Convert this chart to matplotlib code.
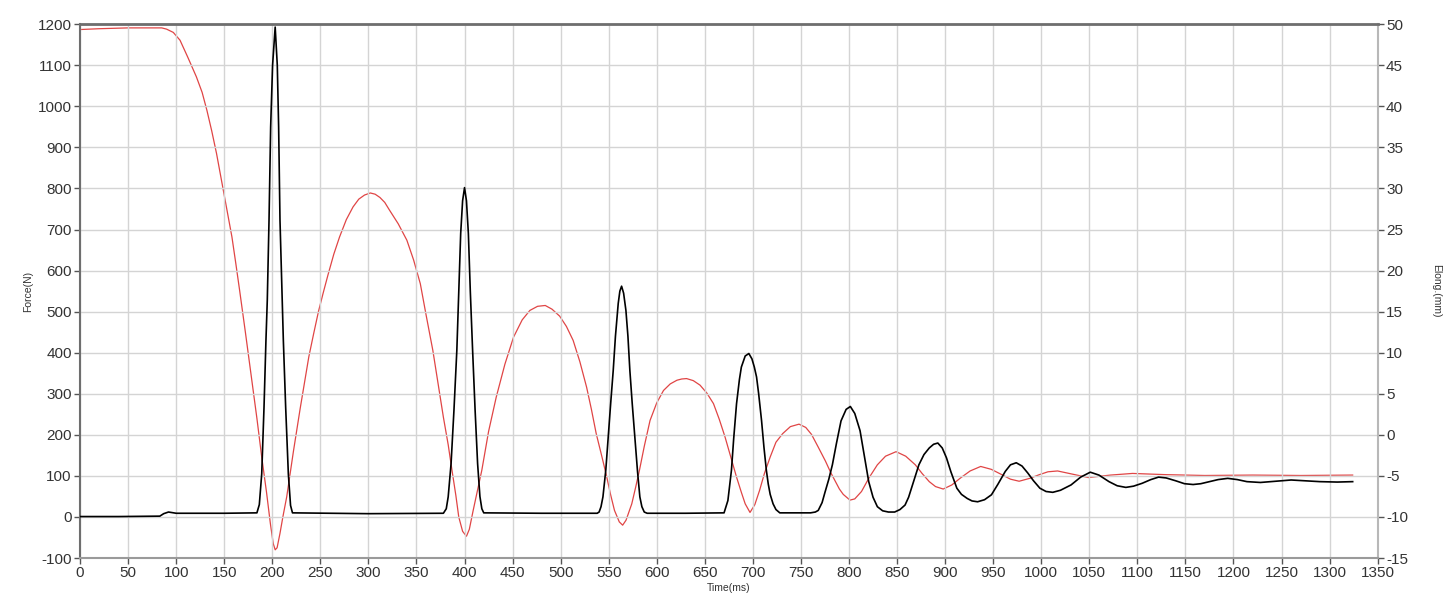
import matplotlib
matplotlib.use("Agg")
import matplotlib.pyplot as plt

plt.rcParams['font.family'] = ['Liberation Sans', 'DejaVu Sans']
plt.rcParams['axes.unicode_minus'] = False

# Force (N) series: time (ms) and force
force_t = [0, 40, 83, 87, 92, 100, 150, 184, 186.5, 187.5, 189, 191.4, 193.4, 194.8, 196.6, 198.3, 200.3, 203,
           205.2, 206.6, 208, 210.4, 211.5, 213.9, 216.7, 219, 221, 300,
           378, 381, 383, 386, 389, 392, 394, 396, 398, 400, 402, 404, 406, 408.4, 411, 413.6, 416, 418, 420,
           480, 538, 540, 542, 544, 547, 549.5, 552, 554.7, 557, 559.9, 561.6, 563.4, 565.5, 567.9, 570, 572,
           574.5, 577.2, 580, 582.4, 584.5, 587, 590,
           630, 670, 674, 677.7, 680, 683, 686, 688, 692, 695.8, 699, 701.5, 703.8, 706, 709, 711.5, 714, 716,
           718, 721, 724, 728,
           760, 765, 768, 772, 775, 779, 782.7, 787, 791.7, 797, 801.4, 806, 811.5, 816, 820.5, 825, 829.5,
           835, 841, 847.5, 853, 858.3, 862, 865, 869, 872.7, 878, 883.5, 888, 892.4, 897, 901.4, 906,
           912.2, 917, 923, 928, 933.8, 941, 948.2, 955, 962.6, 968, 974, 980, 986, 992, 998.6, 1005,
           1012, 1020, 1031, 1041, 1051, 1060, 1070.5, 1079, 1088, 1096, 1105, 1114, 1122, 1130, 1140,
           1149, 1158, 1166, 1175, 1184, 1194, 1204, 1214, 1228, 1244, 1260, 1275, 1290, 1308, 1324]
force_n = [1, 1, 2, 8, 12, 9, 9, 10, 30, 60, 105, 268, 430, 528, 723, 950, 1100, 1193,
           1100, 950, 723, 528, 430, 268, 105, 28, 10, 8,
           9, 20, 49, 130, 260, 406, 550, 690, 770, 802, 770, 690, 550, 406, 260, 130, 50, 20, 10,
           9, 9, 12, 25, 49, 115, 195, 275, 357, 440, 520, 550, 562, 545, 503, 440, 357,
           275, 195, 110, 49, 25, 12, 9,
           9, 10, 40, 114, 190, 276, 335, 365, 392, 398, 385, 365, 341, 300, 235, 170, 114, 80,
           55, 32, 18, 10,
           10, 12, 16, 35, 60, 92, 127, 180, 234, 262, 269, 252, 210, 148, 86, 48, 25,
           15, 12, 12, 18, 29, 48, 70, 100, 127, 152, 168, 177, 180, 168, 144, 110,
           70, 55, 45, 39, 37, 42, 54, 80, 111, 127, 132, 124, 107, 88, 70, 62,
           60, 65, 78, 97, 109, 102, 86, 76, 72, 75, 82, 91, 97, 95, 88,
           81, 79, 81, 86, 91, 94, 91, 86, 84, 87, 90, 88, 86, 85, 86]

# Elongation (mm) series
elong_t = [0, 20, 50, 85, 90, 97, 104, 112, 121, 127, 132, 137, 142, 149, 153, 158, 162, 166, 172, 178, 184,
           189, 194, 198, 201, 203, 205, 208, 211, 215, 222, 229, 238, 243, 248, 253, 258, 264, 270, 277,
           284, 290, 296, 302, 307, 312, 317, 322, 331, 340, 347, 354, 360, 367, 372, 378, 383, 387, 391,
           394, 398, 402, 405, 409, 418, 425, 433, 442, 451, 460, 468, 476, 484, 491, 499, 506, 513, 520,
           527, 532, 537, 543, 548, 552, 556, 561, 564.5, 568, 574, 578, 582, 587, 593, 600, 607, 614, 621,
           626, 631, 638, 645, 652, 659, 665, 671, 677, 683, 688, 692, 697, 702, 707, 712, 718, 724, 731,
           739, 748, 755, 761, 768, 775.5, 781, 786, 790, 794, 801, 806, 813, 821, 829.5, 838, 849, 859,
           869, 876, 883.5, 890, 898, 907, 916, 926, 937, 948, 959, 968, 977, 988, 998, 1007, 1017, 1033,
           1049, 1072, 1095, 1130, 1170, 1220, 1270, 1324]
elong_mm = [49.35, 49.45, 49.55, 49.55, 49.4, 49.0, 48.05, 46.0, 43.6, 41.7, 39.5, 37.0, 34.25, 29.8, 27.2,
            24.1, 20.9, 17.6, 12.5, 7.25, 2.0,
            -2.7, -7.0, -10.8, -13.25, -14.0, -13.75, -12.0, -10.0, -7.55, -2.0, 3.2, 9.5, 12.3, 15.0, 17.3,
            19.5, 22.0, 24.1, 26.2,
            27.75, 28.7, 29.2, 29.45, 29.3, 28.9, 28.3, 27.35, 25.7, 23.7, 21.3, 18.4, 14.6, 10.3, 6.6, 2.15,
            -1.2, -4.35, -7.4,
            -10.0, -11.75, -12.35, -11.5, -9.2, -4.3, 0.4, 4.6, 8.6, 11.9, 14.0, 15.15, 15.65, 15.75, 15.3,
            14.45, 13.2, 11.5, 8.9,
            5.8, 3.1, 0.15, -2.7, -5.15, -7.3, -9.2, -10.6, -11.0, -10.4, -8.4, -6.4, -4.3, -1.4, 1.75, 3.9,
            5.4, 6.2, 6.65,
            6.8, 6.85, 6.6, 6.05, 5.1, 3.8, 1.9, -0.25, -2.7, -5.15, -7.0, -8.4, -9.45, -8.5, -6.75, -4.7,
            -2.7, -0.9, 0.15,
            1.0, 1.3, 0.9, 0.05, -1.5, -3.2, -4.6, -5.7, -6.6, -7.25, -7.95, -7.8, -6.9, -5.2, -3.65, -2.6,
            -2.05, -2.6,
            -3.65, -4.7, -5.7, -6.3, -6.6, -6.1, -5.25, -4.4, -3.85, -4.2, -4.85, -5.4, -5.65, -5.3, -4.85,
            -4.5, -4.4, -4.8,
            -5.2, -4.9, -4.7, -4.85, -4.95, -4.9, -4.95, -4.9]

x_ticks = list(range(0, 1351, 50))
force_ticks = list(range(-100, 1201, 100))
elong_ticks = list(range(-15, 51, 5))

fig = plt.figure(figsize=(14.45, 6.08), dpi=100)
ax = fig.add_axes([0.0554, 0.0822, 0.898, 0.878])
ax2 = ax.twinx()

ax.plot(force_t, force_n, color='black', lw=1.2, zorder=3)
ax2.plot(elong_t, elong_mm, color='#e04545', lw=0.9, zorder=2)
ax.set_zorder(ax2.get_zorder() + 1)
ax.patch.set_visible(False)

ax.set_xlim(0, 1350)
ax.set_ylim(-100, 1200)
ax2.set_ylim(-15, 50)
ax.set_xticks(x_ticks)
ax.set_yticks(force_ticks)
ax2.set_yticks(elong_ticks)

ax2.grid(False)
ax.grid(True, color='#d4d4d4', lw=1.0)
ax.set_axisbelow(True)

for a in (ax, ax2):
    a.tick_params(direction='out', length=4, width=1.0, colors='#555555',
                  labelcolor='#333333', labelsize=11, pad=2)

for s in ('top', 'left', 'bottom', 'right'):
    ax2.spines[s].set_visible(False)
ax.spines['top'].set_color('#6e6e6e')
ax.spines['top'].set_linewidth(2.0)
ax.spines['left'].set_color('#6e6e6e')
ax.spines['left'].set_linewidth(1.5)
ax.spines['bottom'].set_color('#9a9a9a')
ax.spines['bottom'].set_linewidth(1.5)
ax.spines['right'].set_color('#b8b8b8')
ax.spines['right'].set_linewidth(1.5)

ax.set_xlabel('Time(ms)', fontsize=7.5, color='#333333', labelpad=2)
ax.set_ylabel('Force(N)', fontsize=7.5, color='#333333', labelpad=3)
ax2.set_ylabel('Elong.(mm)', fontsize=7.5, color='#333333', rotation=270, labelpad=24)

fig.savefig('out.png', dpi=100, facecolor='white')
